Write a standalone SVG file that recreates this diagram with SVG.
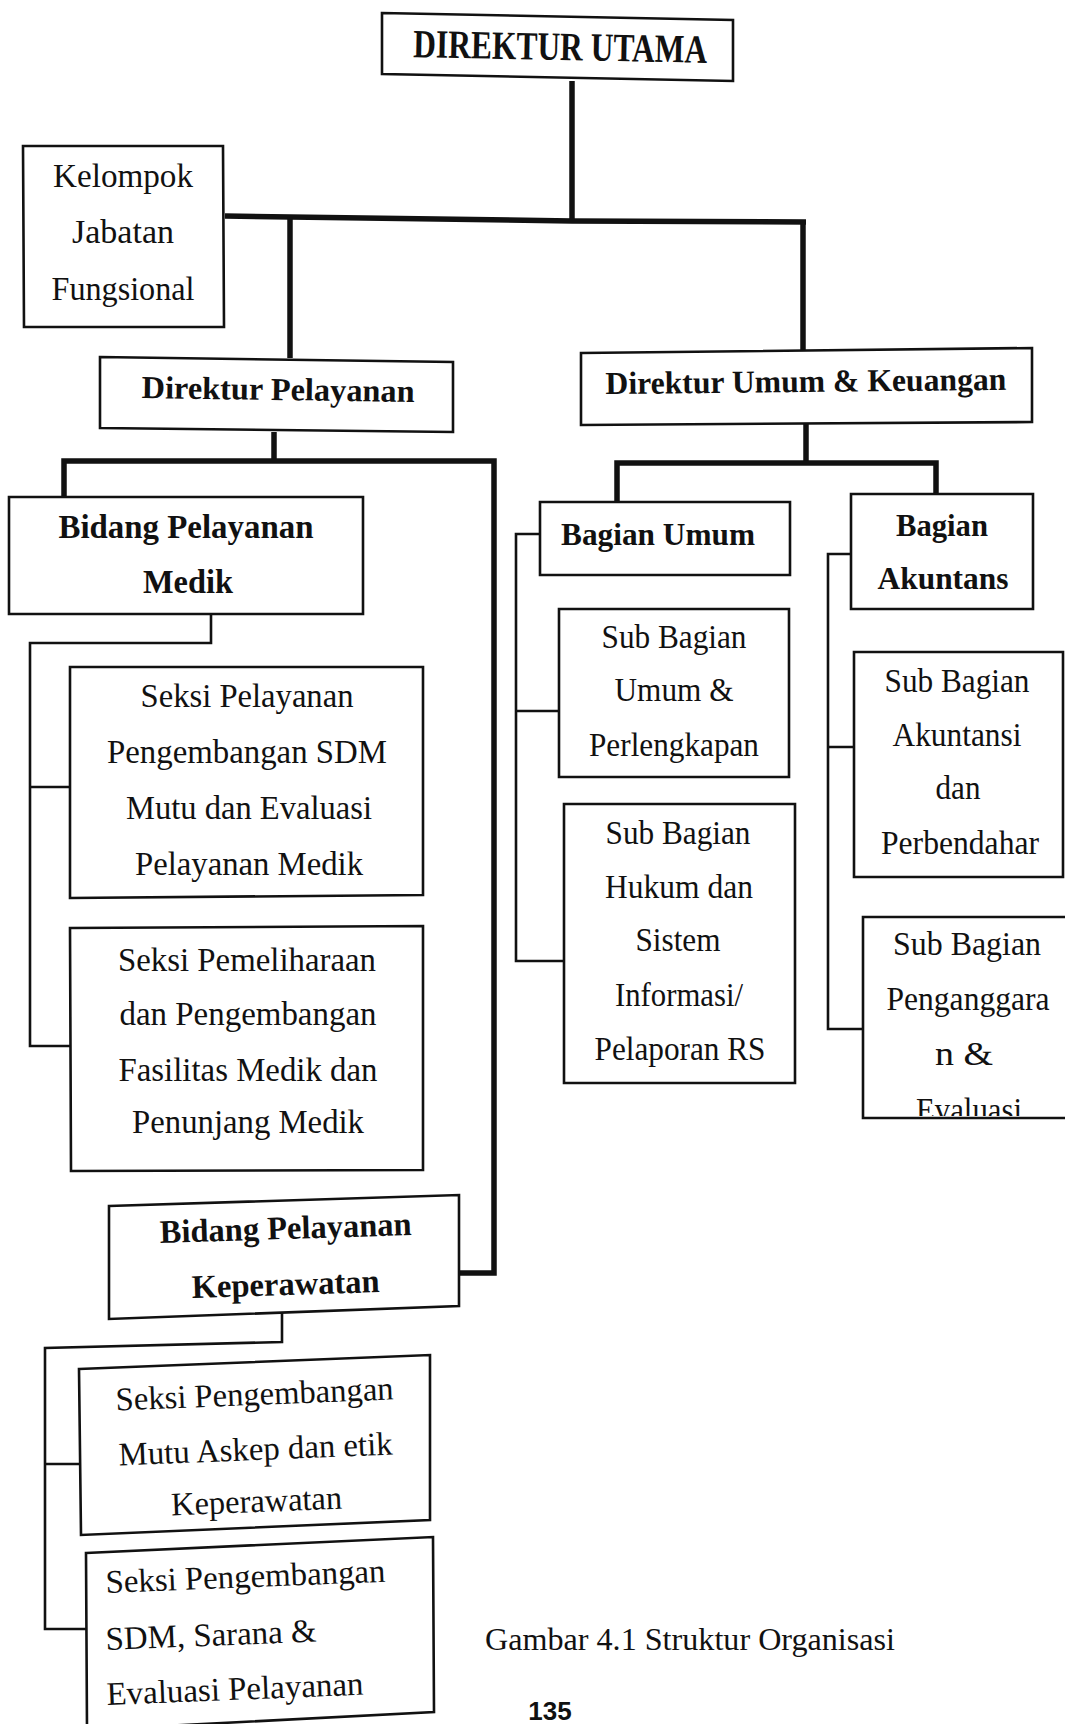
<svg xmlns="http://www.w3.org/2000/svg" width="1065" height="1724" viewBox="0 0 1065 1724">
<style>
.box{fill:#fff;stroke:#111;stroke-width:2.6;stroke-linejoin:miter}
.thick{fill:none;stroke:#111;stroke-width:5.5;stroke-linejoin:miter}
.thin{fill:none;stroke:#111;stroke-width:2.6;stroke-linejoin:miter}
text{font-family:"Liberation Serif","Times New Roman",serif;fill:#111;text-anchor:middle}
.r{font-size:33px}
.b{font-size:32px;font-weight:bold}
.l{text-anchor:start}
.pg{font-family:"Liberation Sans",Arial,sans-serif;font-size:26px;font-weight:bold}
</style>
<defs>
<clipPath id="clipSBP"><rect x="863" y="917" width="210" height="199"/></clipPath>
</defs>
<rect width="1065" height="1724" fill="#fff"/>

<g id="connectors">
<path class="thick" d="M572,81 V221"/>
<path class="thick" d="M225,216 L572,221 L806,222"/>
<path class="thick" d="M290,217 V358"/>
<path class="thick" d="M803,222 V350"/>
<path class="thick" d="M274,432 V462"/>
<path class="thick" d="M64,498 V461 H494 V1273 H459"/>
<path class="thick" d="M806,424 V463"/>
<path class="thick" d="M617,502 V463 H936 V494"/>
<path class="thin" d="M211,614 V643 H30 V1046 H70 M30,787 H70"/>
<path class="thin" d="M282,1307 V1342 L45,1348 V1629 H86 M45,1464 H80"/>
<path class="thin" d="M540,534 H516 V961 H565 M516,711 H559"/>
<path class="thin" d="M851,554 H828 V1029 H866 M828,747 H854"/>
</g>

<g id="direktur-utama">
<polygon class="box" points="382,13 733,20 733,81 382,74"/>
<text class="b" x="560" y="60" font-size="40" textLength="294" lengthAdjust="spacingAndGlyphs" transform="rotate(1.1 560 60)" style="font-size:40px">DIREKTUR UTAMA</text>
</g>

<g id="kelompok-jabatan-fungsional">
<polygon class="box" points="23,146 223,146 224,327 24,327"/>
<text class="r" x="123" y="187" textLength="140" lengthAdjust="spacingAndGlyphs">Kelompok</text>
<text class="r" x="123" y="243" textLength="102" lengthAdjust="spacingAndGlyphs">Jabatan</text>
<text class="r" x="123" y="300" textLength="143" lengthAdjust="spacingAndGlyphs">Fungsional</text>
</g>

<g id="direktur-pelayanan">
<polygon class="box" points="100,357 453,362 453,432 100,428"/>
<text class="b" x="278" y="400" textLength="273" lengthAdjust="spacingAndGlyphs" transform="rotate(0.8 278 400)">Direktur Pelayanan</text>
</g>

<g id="direktur-umum-keuangan">
<polygon class="box" points="581,353 1032,348 1032,422 581,425"/>
<text class="b" x="806" y="392" textLength="401" lengthAdjust="spacingAndGlyphs" transform="rotate(-0.6 806 392)">Direktur Umum &amp; Keuangan</text>
</g>

<g id="bidang-pelayanan-medik">
<polygon class="box" points="9,497 363,497 363,614 9,614"/>
<text class="b" x="186" y="538" textLength="255" lengthAdjust="spacingAndGlyphs" style="font-size:33px">Bidang Pelayanan</text>
<text class="b" x="188" y="593" textLength="90" lengthAdjust="spacingAndGlyphs" style="font-size:33px">Medik</text>
</g>

<g id="seksi-pelayanan-pengembangan-sdm">
<polygon class="box" points="70,667 423,667 423,895 70,898"/>
<text class="r" x="247" y="707" textLength="213" lengthAdjust="spacingAndGlyphs">Seksi Pelayanan</text>
<text class="r" x="247" y="763" textLength="280" lengthAdjust="spacingAndGlyphs">Pengembangan SDM</text>
<text class="r" x="249" y="819" textLength="246" lengthAdjust="spacingAndGlyphs">Mutu dan Evaluasi</text>
<text class="r" x="249" y="875" textLength="228" lengthAdjust="spacingAndGlyphs">Pelayanan Medik</text>
</g>

<g id="seksi-pemeliharaan">
<polygon class="box" points="70,928 423,926 423,1170 71,1171"/>
<text class="r" x="247" y="971" textLength="258" lengthAdjust="spacingAndGlyphs">Seksi Pemeliharaan</text>
<text class="r" x="248" y="1025" textLength="257" lengthAdjust="spacingAndGlyphs">dan Pengembangan</text>
<text class="r" x="248" y="1081" textLength="259" lengthAdjust="spacingAndGlyphs">Fasilitas Medik dan</text>
<text class="r" x="248" y="1133" textLength="232" lengthAdjust="spacingAndGlyphs">Penunjang Medik</text>
</g>

<g id="bidang-pelayanan-keperawatan">
<polygon class="box" points="109,1206 459,1195 459,1306 109,1319"/>
<text class="b" x="286" y="1239" textLength="252" lengthAdjust="spacingAndGlyphs" transform="rotate(-1.8 286 1239)" style="font-size:33px">Bidang Pelayanan</text>
<text class="b" x="286" y="1295" textLength="188" lengthAdjust="spacingAndGlyphs" transform="rotate(-1.8 286 1295)" style="font-size:33px">Keperawatan</text>
</g>

<g id="seksi-pengembangan-mutu-askep">
<polygon class="box" points="79,1369 430,1355 430,1520 81,1535"/>
<text class="r" x="255" y="1405" textLength="278" lengthAdjust="spacingAndGlyphs" transform="rotate(-2.3 255 1405)">Seksi Pengembangan</text>
<text class="r" x="256" y="1460" textLength="274" lengthAdjust="spacingAndGlyphs" transform="rotate(-2.3 256 1460)">Mutu Askep dan etik</text>
<text class="r" x="257" y="1512" textLength="171" lengthAdjust="spacingAndGlyphs" transform="rotate(-2.3 257 1512)">Keperawatan</text>
</g>

<g id="seksi-pengembangan-sdm-sarana">
<polygon class="box" points="86,1553 433,1537 434,1712 87,1730"/>
<text class="r l" x="106" y="1593" textLength="280" lengthAdjust="spacingAndGlyphs" transform="rotate(-2.3 106 1593)">Seksi Pengembangan</text>
<text class="r l" x="106" y="1650" textLength="211" lengthAdjust="spacingAndGlyphs" transform="rotate(-2.3 106 1650)">SDM, Sarana &amp;</text>
<text class="r l" x="107" y="1705" textLength="257" lengthAdjust="spacingAndGlyphs" transform="rotate(-2.3 107 1705)">Evaluasi Pelayanan</text>
</g>

<g id="bagian-umum">
<polygon class="box" points="540,502 790,502 790,575 540,575"/>
<text class="b" x="658" y="545" textLength="194" lengthAdjust="spacingAndGlyphs" style="font-size:31px">Bagian Umum</text>
</g>

<g id="sub-bagian-umum-perlengkapan">
<polygon class="box" points="559,609 789,609 789,777 559,777"/>
<text class="r" x="674" y="648" textLength="145" lengthAdjust="spacingAndGlyphs">Sub Bagian</text>
<text class="r" x="674" y="701" textLength="119" lengthAdjust="spacingAndGlyphs">Umum &amp;</text>
<text class="r" x="674" y="756" textLength="170" lengthAdjust="spacingAndGlyphs">Perlengkapan</text>
</g>

<g id="sub-bagian-hukum-sistem-informasi">
<polygon class="box" points="564,804 795,804 795,1083 564,1083"/>
<text class="r" x="678" y="844" textLength="145" lengthAdjust="spacingAndGlyphs">Sub Bagian</text>
<text class="r" x="679" y="898" textLength="148" lengthAdjust="spacingAndGlyphs">Hukum dan</text>
<text class="r" x="678" y="951" textLength="85" lengthAdjust="spacingAndGlyphs">Sistem</text>
<text class="r" x="679" y="1006" textLength="128" lengthAdjust="spacingAndGlyphs">Informasi/</text>
<text class="r" x="680" y="1060" textLength="171" lengthAdjust="spacingAndGlyphs">Pelaporan RS</text>
</g>

<g id="bagian-akuntans">
<polygon class="box" points="851,494 1033,494 1033,609 851,609"/>
<text class="b" x="942" y="536" textLength="92" lengthAdjust="spacingAndGlyphs" style="font-size:31px">Bagian</text>
<text class="b" x="943" y="589" textLength="131" lengthAdjust="spacingAndGlyphs" style="font-size:31px">Akuntans</text>
</g>

<g id="sub-bagian-akuntansi">
<polygon class="box" points="854,652 1063,652 1063,877 854,877"/>
<text class="r" x="957" y="692" textLength="145" lengthAdjust="spacingAndGlyphs">Sub Bagian</text>
<text class="r" x="957" y="746" textLength="129" lengthAdjust="spacingAndGlyphs">Akuntansi</text>
<text class="r" x="958" y="799" textLength="45" lengthAdjust="spacingAndGlyphs">dan</text>
<text class="r" x="960" y="854" textLength="158" lengthAdjust="spacingAndGlyphs">Perbendahar</text>
</g>

<g id="sub-bagian-penganggaran">
<polygon class="box" points="863,917 1075,917 1075,1118 863,1118"/>
<g clip-path="url(#clipSBP)">
<text class="r" x="967" y="955" textLength="148" lengthAdjust="spacingAndGlyphs">Sub Bagian</text>
<text class="r" x="968" y="1010" textLength="163" lengthAdjust="spacingAndGlyphs">Penganggara</text>
<text class="r" x="964" y="1065" textLength="58" lengthAdjust="spacingAndGlyphs">n &amp;</text>
<text class="r" x="969" y="1121" textLength="106" lengthAdjust="spacingAndGlyphs">Evaluasi</text>
</g>
</g>

<g id="caption">
<text class="r" x="690" y="1650" textLength="410" lengthAdjust="spacingAndGlyphs" style="font-size:32px">Gambar 4.1 Struktur Organisasi</text>
<text class="pg" x="550" y="1720">135</text>
</g>
</svg>
